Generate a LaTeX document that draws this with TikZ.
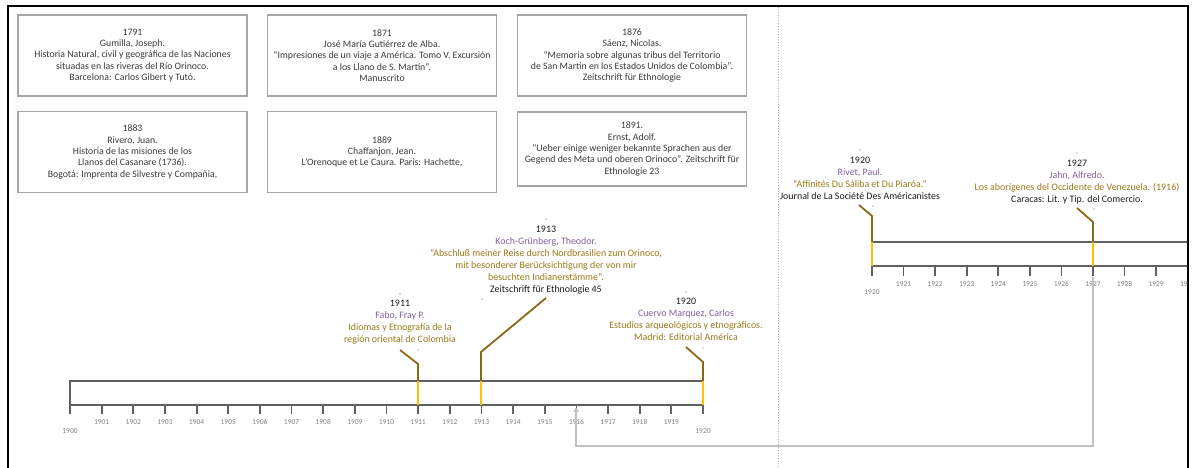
\documentclass[tikz,border=0pt]{standalone}
\usepackage{fontspec}
\setmainfont{Carlito}
\usetikzlibrary{arrows.meta}
\definecolor{boxgray}{HTML}{A6A6A6}
\definecolor{txtgray}{HTML}{3A3A3A}
\definecolor{axisgray}{HTML}{606060}
\definecolor{lblgray}{HTML}{808080}
\definecolor{evpurple}{HTML}{7F5F9F}
\definecolor{evgold}{HTML}{9A7818}
\definecolor{evbrown}{HTML}{8A6A14}
\definecolor{evyellow}{HTML}{FFC000}
\definecolor{linkgray}{HTML}{C0C0C0}
\definecolor{evblack}{HTML}{1A1A1A}
\tikzset{
  refbox/.style={draw=boxgray, line width=1.3pt, minimum width=229pt, minimum height=81pt,
    align=center, text=txtgray, font=\fontsize{9.8}{11.3}\selectfont, inner sep=0pt},
  evtext/.style={align=center, anchor=north, inner sep=0pt, text=evblack,
    font=\fontsize{9.9}{12}\selectfont},
  axisline/.style={draw=axisgray, line width=1.8pt},
  ticklbl/.style={text=lblgray, font=\fontsize{7.5}{8}\selectfont, inner sep=0pt},
  stem/.style={draw=evbrown, line width=1.8pt},
  stemlow/.style={draw=evyellow, line width=1.8pt},
  tinydot/.style={fill=gray!80!black, draw=none},
  linkline/.style={draw=linkgray, line width=1.3pt, -{Triangle[width=5pt,length=5pt]}},
}
\begin{document}
\begin{tikzpicture}[x=1pt,y=-1pt]
\useasboundingbox (0,0) rectangle (1192,468);
% frame
\draw[black, line width=2.2pt] (8,468) -- (8,6) -- (1188,6) -- (1188,468);
\draw[gray!60, dotted, line width=0.7pt] (778,7) -- (778,468);

% reference boxes
\node[refbox] (b1) at (132.5,55.5) {1791\\Gumilla, Joseph.\\Historia Natural, civil y geográfica de las Naciones\\situadas en las riveras del Río Orinoco.\\Barcelona: Carlos Gibert y Tutó.};
\node[refbox] (b2) at (382,55.5) {1871\\José María Gutiérrez de Alba.\\“Impresiones de un viaje a América. Tomo V. Excursión\\a los Llano de S. Martín”.\\Manuscrito};
\node[refbox] (b3) at (632,55.5) {1876\\Sáenz, Nicolas.\\“Memoria sobre algunas tribus del Territorio\\de San Martin en los Estados Unidos de Colombia”.\\Zeitschrift für Ethnologie};
\node[refbox] (b4) at (132.5,152) {1883\\Rivero, Juan.\\Historia de las misiones de los\\Llanos del Casanare (1736).\\Bogotá: Imprenta de Silvestre y Compañia,};
\node[refbox] (b5) at (382,152) {1889\\Chaffanjon, Jean.\\L’Orenoque et Le Caura. Paris: Hachette,};
\node[refbox, minimum height=74pt] (b6) at (632,149) {1891.\\Ernst, Adolf.\\“Ueber einige weniger bekannte Sprachen aus der\\Gegend des Meta und oberen Orinoco”. Zeitschrift für\\Ethnologie 23};

% ---------- left timeline ----------
\coordinate (LT0) at (70,381); \coordinate (LT20) at (703,381);
\coordinate (LB0) at (70,405); \coordinate (LB20) at (703,405);
\coordinate (LK0) at (70,414);
\draw[axisline] (LT20) -- (LT0) -- (LK0);
\draw[axisline] (LB0) -- (LB20);
\foreach \i in {1,...,20} {
  \coordinate (lt\i) at ({70+\i*31.65},405);
  \draw[axisline] (lt\i) -- ++(0,9);
}
\foreach \i in {1,...,19} {
  \node[ticklbl] (ll\i) at ({70+\i*31.65},422) {\the\numexpr1900+\i\relax};
}
\node[ticklbl] (ll0) at (70,431) {1900};
\node[ticklbl] (ll20) at (703,431) {1920};

% events left
\coordinate (t1911) at (418,381); \coordinate (y1911) at (418,405);
\coordinate (k1911) at (418,364); \coordinate (d1911) at (400,350);
\draw[stemlow] (t1911) -- (y1911);
\draw[stem] (t1911) -- (k1911) -- (d1911);
\node[evtext] (e1911) at (400,299.5) {1911\\{\color{evpurple}Fabo, Fray P.}\\{\color{evgold}Idiomas y Etnografía de la}\\{\color{evgold}región oriental de Colombia}};

\coordinate (t1913) at (481,381); \coordinate (y1913) at (481,405);
\coordinate (k1913) at (481,352); \coordinate (d1913) at (546,298);
\draw[stemlow] (t1913) -- (y1913);
\draw[stem] (t1913) -- (k1913) -- (d1913);
\node[evtext] (e1913) at (546,225.5) {1913\\{\color{evpurple}Koch-Grünberg, Theodor.}\\{\color{evgold}“Abschluß meiner Reise durch Nordbrasilien zum Orinoco,}\\{\color{evgold}mit besonderer Berücksichtigung der von mir}\\{\color{evgold}besuchten Indianerstämme”.}\\Zeitschrift für Ethnologie 45};

\coordinate (t1920) at (703,381); \coordinate (y1920) at (703,405);
\coordinate (k1920) at (703,362); \coordinate (d1920) at (686,347);
\draw[stemlow] (t1920) -- (y1920);
\draw[stem] (t1920) -- (k1920) -- (d1920);
\node[evtext] (e1920a) at (686,297.5) {1920\\{\color{evpurple}Cuervo Marquez, Carlos}\\{\color{evgold}Estudios arqueológicos y etnográficos.}\\{\color{evgold}Madrid: Editorial América}};

% ---------- right timeline ----------
\begin{scope}
\clip (780,0) rectangle (1187,468);
\coordinate (RT0) at (872,242); \coordinate (RTend) at (1192,242);
\coordinate (RB0) at (872,266); \coordinate (RBend) at (1192,266);
\coordinate (RK0) at (872,276);
\draw[axisline] (RTend) -- (RT0) -- (RK0);
\draw[axisline] (RB0) -- (RBend);
\foreach \i in {1,...,10} {
  \coordinate (rt\i) at ({872+\i*31.57},266);
  \draw[axisline] (rt\i) -- ++(0,10);
}
\foreach \i in {1,...,10} {
  \node[ticklbl] (rl\i) at ({872+\i*31.57},284) {\the\numexpr1920+\i\relax};
}
\end{scope}
\node[ticklbl] (rl0) at (872,292) {1920};

\coordinate (t1920r) at (872,242); \coordinate (y1920r) at (872,266);
\coordinate (k1920r) at (872,216); \coordinate (d1920r) at (859,205);
\draw[stemlow] (t1920r) -- (y1920r);
\draw[stem] (t1920r) -- (k1920r) -- (d1920r);
\node[evtext] (e1920b) at (860,156.5) {1920\\{\color{evpurple}Rivet, Paul.}\\{\color{evgold}“Affinités Du Sáliba et Du Piaróa.”}\\Journal de La Société Des Américanistes};

\coordinate (t1927) at (1093,242); \coordinate (y1927) at (1093,266);
\coordinate (k1927) at (1093,222); \coordinate (d1927) at (1077,208);
\draw[stemlow] (t1927) -- (y1927);
\draw[stem] (t1927) -- (k1927) -- (d1927);
\node[evtext] (e1927) at (1077,159.5) {1927\\{\color{evpurple}Jahn, Alfredo.}\\{\color{evgold}Los aborígenes del Occidente de Venezuela. (1916)}\\Caracas: Lit. y Tip. del Comercio.};

% link arrow 1927 -> 1916
\coordinate (a1) at (1093,277);
\coordinate (acorner) at (576,446);
\coordinate (a1916) at (576,407);
\draw[linkline] (a1) |- (acorner) -- (a1916);

% tiny anchor dots
\foreach \p in {(400,294),(418,350),(482,299),(546,219),(686,292),(703,348),(860,150),(873,206),(1077,153),(1094,209)}
  \fill[tinydot] \p circle (0.55pt);
\end{tikzpicture}
\end{document}
